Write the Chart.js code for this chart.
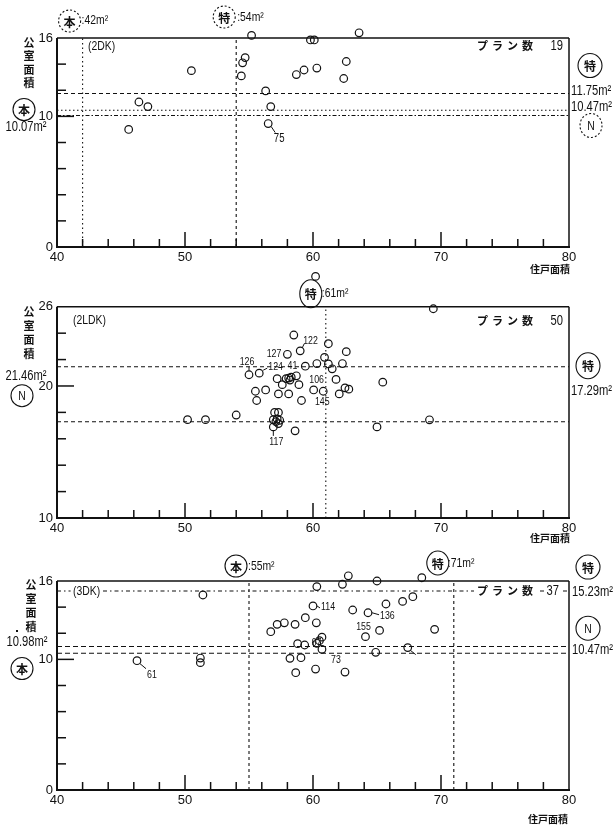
<!DOCTYPE html>
<html>
<head>
<meta charset="utf-8">
<script src="https://cdn.jsdelivr.net/npm/chart.js@4.4.0/dist/chart.umd.min.js"></script>
<style>
body { margin: 0; background: #fff; width: 614px; height: 832px; position: relative; overflow: hidden; }
canvas { position: absolute; left: 0; }
</style>
</head>
<body>
<canvas id="c1" width="614" height="275" style="top:0"></canvas>
<canvas id="c2" width="614" height="287" style="top:258px"></canvas>
<canvas id="c3" width="614" height="287" style="top:545px"></canvas>
<script>
// shared x axis (住戸面積)
var xLabels = [40, 50, 60, 70, 80];

// 2DK
var dk2Area = [55.2, 63.6, 59.8, 60.1, 54.7, 54.5, 50.5, 54.4, 58.7, 59.3, 60.3, 62.6, 62.4, 56.3, 46.4, 47.1, 56.7, 45.6, 56.5];
var dk2Room = [16.2, 16.4, 15.85, 15.85, 14.5, 14.1, 13.5, 13.1, 13.2, 13.55, 13.7, 14.2, 12.9, 11.95, 11.1, 10.75, 10.75, 9.0, 9.45];
var dk2YLabels = [0, 10, 16];
var dk2VLines = [42, 54];
var dk2HLines = [11.75, 10.47, 10.07];

// 2LDK
var ldk2Area = [58.5, 59.0, 61.2, 62.6, 58.0, 60.9, 60.3, 59.4, 61.2, 61.5,
                62.3, 55.0, 55.8, 57.2, 57.9, 58.1, 58.3, 58.2, 58.7, 57.6,
                58.9, 61.8, 55.5, 56.3, 60.05, 60.8, 62.05, 62.5, 62.8, 55.6,
                57.3, 58.1, 59.1, 54.0, 57.0, 57.3, 56.9, 57.2, 57.4, 57.1,
                57.3, 56.9, 58.6, 65.0, 60.2, 69.4, 65.45, 69.1, 50.2, 51.6];
var ldk2Room = [23.86, 22.66, 23.2, 22.6, 22.4, 22.17, 21.7, 21.5, 21.67, 21.3,
                21.7, 20.85, 20.97, 20.55, 20.55, 20.6, 20.67, 20.45, 20.77, 20.1,
                20.1, 20.5, 19.6, 19.7, 19.7, 19.6, 19.4, 19.86, 19.76, 18.9,
                19.4, 19.4, 18.9, 17.8, 18.0, 18.0, 17.45, 17.5, 17.4, 17.3,
                17.15, 16.9, 16.6, 16.9, 28.3, 25.85, 20.29, 17.44, 17.45, 17.45];
var ldk2YLabels = [10, 20, 26];
var ldk2VLines = [61];
var ldk2HLines = [21.46, 17.29];

// 3DK
var dk3Area = [62.76, 68.5, 65.0, 62.3, 60.3, 67.8, 67.0, 65.7, 60.0, 63.1,
               64.3, 59.4, 60.26, 57.2, 57.76, 58.6, 56.7, 65.2, 69.5, 64.1,
               60.7, 60.5, 60.3, 58.8, 59.35, 60.7, 64.9, 67.4, 58.2, 59.06,
               60.2, 58.65, 62.5, 51.4, 51.2, 51.2, 46.25];
var dk3Room = [16.4, 16.25, 16.0, 15.75, 15.57, 14.8, 14.44, 14.24, 14.09, 13.78,
               13.57, 13.19, 12.8, 12.68, 12.8, 12.68, 12.12, 12.22, 12.3, 11.74,
               11.7, 11.43, 11.23, 11.2, 11.1, 10.77, 10.54, 10.9, 10.08, 10.13,
               9.26, 8.98, 9.03, 14.93, 10.1, 9.75, 9.9];
var dk3YLabels = [0, 10, 16];
var dk3VLines = [55, 71];
var dk3HLines = [15.23, 10.98, 10.47];

var NUM = "'Liberation Sans', sans-serif";
var JP = "'Noto Sans CJK JP', sans-serif";
var INK = '#111';

function seg(ctx, x1, y1, x2, y2) {
    ctx.beginPath(); ctx.moveTo(x1, y1); ctx.lineTo(x2, y2); ctx.stroke();
}
// narrow text: the scan uses a condensed face, so squeeze horizontally
function txt(ctx, s, x, y, align, size, clear) {
    var sx = 0.8;
    ctx.save();
    ctx.font = (size || 12) + 'px ' + NUM;
    ctx.textAlign = align || 'left';
    ctx.textBaseline = 'middle';
    ctx.translate(x, y);
    ctx.scale(sx, 1);
    if (clear) {
        var w = ctx.measureText(s).width, x0 = align == 'right' ? -w : (align == 'center' ? -w / 2 : 0);
        ctx.fillStyle = '#fff'; ctx.fillRect(x0 - 3, -6, w + 6, 12);
    }
    ctx.fillStyle = INK;
    ctx.fillText(s, 0, 0);
    ctx.restore();
}
function jp(ctx, s, x, y, align, size, spacing, clear) {
    ctx.font = 'bold ' + (size || 11) + 'px ' + JP;
    ctx.letterSpacing = (spacing || 0) + 'px';
    ctx.textAlign = align || 'left';
    ctx.textBaseline = 'middle';
    if (clear) {
        var w = ctx.measureText(s).width, x0 = align == 'right' ? x - w : x;
        ctx.fillStyle = '#fff'; ctx.fillRect(x0 - 3, y - 7, w + 6, 14);
    }
    ctx.fillStyle = INK;
    ctx.fillText(s, x, y);
    ctx.letterSpacing = '0px';
}
function vert(ctx, s, x, y, step) {
    for (var i = 0; i < s.length; i++) jp(ctx, s[i], x, y + i * step, 'center', 11);
}
function circ(ctx, x, y, rx, ry, ch, dashed) {
    ctx.save();
    ctx.lineWidth = 1.1;
    ctx.setLineDash(dashed ? [2, 2] : []);
    ctx.beginPath(); ctx.ellipse(x, y, rx, ry, 0, 0, Math.PI * 2); ctx.stroke();
    ctx.restore();
    if (ch == 'N') txt(ctx, 'N', x, y + 1, 'center', 13);
    else jp(ctx, ch, x, y + 1, 'center', 12);
}

// o.frame = pixel row of the frame top (value yMax), o.bottom = pixel row of yMin;
// the scale gets some headroom above yMax so the few points over the frame still draw
function panel(id, o) {
    var unit = (o.bottom - o.frame) / (o.yMax - o.yMin);
    var top = o.frame - o.head * unit;
    var pts = o.xs.map(function(x, i) { return {x: x, y: o.ys[i]}; });
    var datasets = [{
        type: 'scatter', data: pts, clip: false,
        pointRadius: 3.8, pointBorderWidth: 1.2,
        pointBorderColor: INK, pointBackgroundColor: 'rgba(0,0,0,0)'
    }];
    o.vLines.forEach(function(v, i) {
        datasets.push({type: 'line', data: [{x: v, y: o.yMin}, {x: v, y: o.yMax}],
            borderColor: INK, borderWidth: 1.1, borderDash: o.vDash[i], pointRadius: 0, fill: false});
    });
    o.hLines.forEach(function(v, i) {
        datasets.push({type: 'line', data: [{x: 40, y: v}, {x: 80, y: v}],
            borderColor: INK, borderWidth: 1.1, borderDash: o.hDash[i], pointRadius: 0, fill: false});
    });

    var deco = {
        id: 'deco' + id,
        afterDraw: function(chart) {
            var ctx = chart.ctx, a = chart.chartArea, xs = chart.scales.x, ys = chart.scales.y;
            var X = function(v) { return xs.getPixelForValue(v); };
            var Y = function(v) { return ys.getPixelForValue(v); };
            var P = function(i) { return {x: X(o.xs[i]), y: Y(o.ys[i])}; };
            var f = {left: a.left, right: a.right, top: Y(o.yMax), bottom: a.bottom};
            ctx.save();
            ctx.strokeStyle = INK;
            ctx.lineWidth = 2;
            seg(ctx, f.left, f.bottom + 1, f.left, f.top);
            ctx.lineWidth = 1.5;
            seg(ctx, f.left, f.top, f.right, f.top);
            seg(ctx, f.right, f.top, f.right, f.bottom);
            // inward tick marks
            xs.ticks.forEach(function(t) {
                if (t.value <= 40 || t.value >= 80) return;
                var len = t.value % 10 == 0 ? 15 : 8;
                seg(ctx, X(t.value), f.bottom, X(t.value), f.bottom - len);
            });
            ys.ticks.forEach(function(t) {
                if (t.value <= o.yMin || t.value >= o.yMax) return;
                var len = t.value == o.yLong ? 17 : 9;
                seg(ctx, f.left, Y(t.value), f.left + len, Y(t.value));
            });
            ctx.lineWidth = 1;
            o.notes(ctx, X, Y, f, P);
            ctx.restore();
        }
    };

    return new Chart(document.getElementById(id), {
        type: 'scatter',
        data: {datasets: datasets},
        options: {
            responsive: false,
            animation: false,
            events: [],
            layout: {padding: {top: top, right: 45, left: 0, bottom: 0}},
            plugins: {legend: {display: false}, tooltip: {enabled: false}},
            scales: {
                x: {
                    type: 'linear', min: 40, max: 80,
                    afterFit: function(s) { s.height = o.xh; },
                    ticks: {stepSize: 2, autoSkip: false, maxRotation: 0, padding: 3, color: INK,
                        font: {family: NUM, size: 13},
                        callback: function(v) { return xLabels.indexOf(v) >= 0 ? String(v) : ''; }},
                    grid: {drawOnChartArea: false, drawTicks: false},
                    border: {color: INK, width: 2}
                },
                y: {
                    type: 'linear', min: o.yMin, max: o.yMax + o.head,
                    afterFit: function(s) { s.width = 57; },
                    ticks: {stepSize: 2, autoSkip: false, includeBounds: false, padding: 4, color: INK,
                        font: {family: NUM, size: 13},
                        callback: function(v) { return o.yLabels.indexOf(v) >= 0 ? String(v) : ''; }},
                    grid: {drawOnChartArea: false, drawTicks: false},
                    border: {display: false}
                }
            }
        },
        plugins: [deco]
    });
}

// 2DK
panel('c1', {
    xs: dk2Area, ys: dk2Room, yMin: 0, yMax: 16, head: 0.8, yLabels: dk2YLabels, yLong: 10,
    vLines: dk2VLines, vDash: [[1.5, 3], [3, 3]],
    hLines: dk2HLines, hDash: [[4, 3], [1.5, 2.5], [4, 2, 1.5, 2]],
    frame: 38, bottom: 247, xh: 28,
    notes: function(ctx, X, Y, a, P) {
        circ(ctx, X(42) - 13, a.top - 17, 11, 11, '本', true);
        txt(ctx, ':42m²', X(42) - 1, a.top - 18, 'left', 13);
        circ(ctx, X(54) - 12, a.top - 21, 11, 11, '特', true);
        txt(ctx, ':54m²', X(54) + 1, a.top - 21, 'left', 13);
        txt(ctx, '(2DK)', a.left + 31, a.top + 8, 'left', 13);
        jp(ctx, 'プラン数', a.right - 32, a.top + 8, 'right', 11, 4);
        txt(ctx, '19', a.right - 6, a.top + 8, 'right', 14);
        vert(ctx, '公室面積', 29, a.top + 5, 13.3);
        circ(ctx, 24, Y(10.07) - 6, 11, 11, '本', false);
        txt(ctx, '10.07m²', 26, Y(10.07) + 12, 'center', 14);
        circ(ctx, 590, Y(11.75) - 28, 12, 12, '特', false);
        txt(ctx, '11.75m²', a.right + 2, Y(11.75) - 2, 'left', 14);
        txt(ctx, '10.47m²', a.right + 2, Y(10.47) - 3, 'left', 14);
        circ(ctx, 591, Y(10.07) + 10, 11, 12, 'N', true);
        jp(ctx, '住戸面積', a.right + 1, a.bottom + 22, 'right', 10);
        var p = P(18);
        seg(ctx, p.x + 3, p.y + 3, p.x + 7, p.y + 9);
        txt(ctx, '75', p.x + 11, p.y + 15, 'center', 12);
    }
});

// 2LDK
panel('c2', {
    xs: ldk2Area, ys: ldk2Room, yMin: 10, yMax: 26, head: 2.8, yLabels: ldk2YLabels, yLong: 20,
    vLines: ldk2VLines, vDash: [[1.5, 3]],
    hLines: ldk2HLines, hDash: [[4, 3], [4, 3]],
    frame: 48, bottom: 260, xh: 27,
    notes: function(ctx, X, Y, a, P) {
        circ(ctx, X(61) - 15, a.top - 13, 11, 14, '特', false);
        txt(ctx, ':61m²', X(61) - 4, a.top - 13, 'left', 13);
        txt(ctx, '(2LDK)', a.left + 16, a.top + 14, 'left', 13);
        jp(ctx, 'プラン数', a.right - 32, a.top + 14, 'right', 11, 4);
        txt(ctx, '50', a.right - 6, a.top + 14, 'right', 14);
        vert(ctx, '公室面積', 29, a.top + 5, 14);
        txt(ctx, '21.46m²', 26, Y(21.46) + 9, 'center', 14);
        circ(ctx, 22, Y(21.46) + 29, 11, 11, 'N', false);
        circ(ctx, 588, Y(21.46) - 1, 12, 13, '特', false);
        txt(ctx, '17.29m²', a.right + 2, Y(21.46) + 24, 'left', 14);
        jp(ctx, '住戸面積', a.right + 1, a.bottom + 20, 'right', 10);
        var p;
        p = P(1); seg(ctx, p.x + 2, p.y - 3, p.x + 4, p.y - 7); txt(ctx, '122', p.x + 3, p.y - 10, 'left', 11);
        p = P(4); txt(ctx, '127', p.x - 6, p.y, 'right', 11);
        p = P(11); seg(ctx, p.x, p.y - 4, p.x, p.y - 8); txt(ctx, '126', p.x - 2, p.y - 13, 'center', 11);
        p = P(12); seg(ctx, p.x + 4, p.y - 3, p.x + 8, p.y - 5); txt(ctx, '124', p.x + 9, p.y - 6, 'left', 11);
        p = P(7); txt(ctx, '41', p.x - 8, p.y, 'right', 11);
        p = P(24); txt(ctx, '106', p.x + 3, p.y - 10, 'center', 11);
        p = P(25); txt(ctx, '145', p.x - 1, p.y + 11, 'center', 11);
        p = P(41); seg(ctx, p.x, p.y + 4, p.x, p.y + 9); txt(ctx, '117', p.x + 3, p.y + 15, 'center', 11);
    }
});

// 3DK
panel('c3', {
    xs: dk3Area, ys: dk3Room, yMin: 0, yMax: 16, head: 0.8, yLabels: dk3YLabels, yLong: 10,
    vLines: dk3VLines, vDash: [[3, 3], [3, 3]],
    hLines: dk3HLines, hDash: [[4, 3, 1.5, 3], [5, 3], [5, 3]],
    frame: 36, bottom: 245, xh: 42,
    notes: function(ctx, X, Y, a, P) {
        circ(ctx, X(55) - 13, a.top - 15, 11, 11, '本', false);
        txt(ctx, ':55m²', X(55) - 1, a.top - 15, 'left', 13);
        circ(ctx, X(71) - 16, a.top - 18, 11, 12, '特', false);
        txt(ctx, ':71m²', X(71) - 6, a.top - 18, 'left', 13);
        txt(ctx, '(3DK)', a.left + 16, Y(15.23), 'left', 13, true);
        jp(ctx, 'プラン数', a.right - 32, Y(15.23), 'right', 11, 4, true);
        txt(ctx, '37', a.right - 10, Y(15.23), 'right', 14, true);
        vert(ctx, '公室面積', 31, a.top + 4, 14);
        ctx.fillStyle = INK; ctx.fillRect(16, a.top + 49, 2, 2);
        txt(ctx, '10.98m²', 27, Y(10.98) - 4, 'center', 14);
        circ(ctx, 22, Y(10.98) + 22, 11, 11, '本', false);
        circ(ctx, 588, Y(15.23) - 24, 12, 12, '特', false);
        txt(ctx, '15.23m²', a.right + 3, Y(15.23) + 1, 'left', 14);
        circ(ctx, 588, Y(10.47) - 25, 12, 12, 'N', false);
        txt(ctx, '10.47m²', a.right + 3, Y(10.47) - 3, 'left', 14);
        jp(ctx, '住戸面積', a.right - 1, a.bottom + 29, 'right', 10);
        var p;
        p = P(8); seg(ctx, p.x + 4, p.y, p.x + 7, p.y + 2); txt(ctx, '114', p.x + 8, p.y + 1, 'left', 11);
        p = P(10); seg(ctx, p.x + 4, p.y, p.x + 11, p.y + 2); txt(ctx, '136', p.x + 12, p.y + 3, 'left', 11);
        p = P(19); txt(ctx, '155', p.x - 2, p.y - 10, 'center', 11);
        p = P(21); txt(ctx, '67', p.x - 3, p.y + 2, 'center', 11);
        p = P(25); txt(ctx, '73', p.x + 14, p.y + 11, 'center', 11);
        p = P(27); seg(ctx, p.x + 3, p.y + 3, p.x + 8, p.y + 7);
        p = P(36); seg(ctx, p.x + 3, p.y + 3, p.x + 9, p.y + 8); txt(ctx, '61', p.x + 15, p.y + 14, 'center', 11);
    }
});
</script>
</body>
</html>
